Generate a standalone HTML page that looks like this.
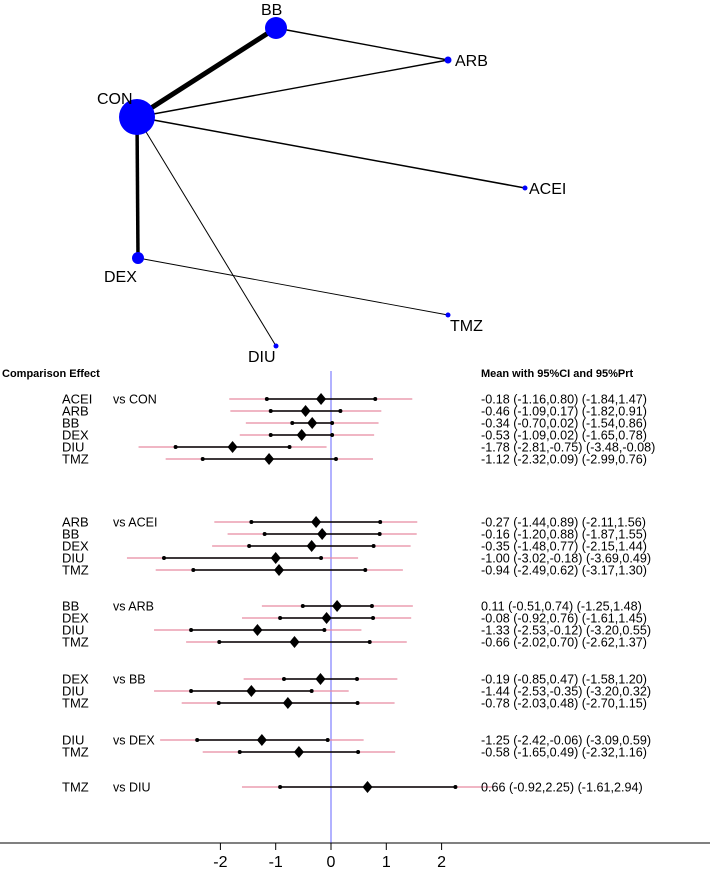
<!DOCTYPE html>
<html><head><meta charset="utf-8"><style>
body{margin:0;background:#fff;}
svg{display:block;font-family:"Liberation Sans",Arial,sans-serif;}
</style></head><body>
<svg id="c" width="710" height="870" viewBox="0 0 710 870"></svg>
<script>
const nodeNames=["CON","BB","ARB","ACEI","DEX","TMZ","DIU"];
const nodeSizes=[18,11,3.5,2.5,6,2.5,2.5];
const edgeList=[["CON","BB",5],["CON","ARB",1.4],["BB","ARB",1.4],["CON","ACEI",1.5],["CON","DEX",3.5],["CON","DIU",1],["DEX","TMZ",0.9]];
const rowNames=[["ACEI","ARB","BB","DEX","DIU","TMZ"],["ARB","BB","DEX","DIU","TMZ"],["BB","DEX","DIU","TMZ"],["DEX","DIU","TMZ"],["DIU","TMZ"],["TMZ"]];
const groupRefs=["vs CON","vs ACEI","vs ARB","vs BB","vs DEX","vs DIU"];
const means=[[-0.18,-0.46,-0.34,-0.53,-1.78,-1.12],[-0.27,-0.16,-0.35,-1.00,-0.94],[0.11,-0.08,-1.33,-0.66],[-0.19,-1.44,-0.78],[-1.25,-0.58],[0.66]];
const ciLo=[[-1.16,-1.09,-0.70,-1.09,-2.81,-2.32],[-1.44,-1.20,-1.48,-3.02,-2.49],[-0.51,-0.92,-2.53,-2.02],[-0.85,-2.53,-2.03],[-2.42,-1.65],[-0.92]];
const ciHi=[[0.80,0.17,0.02,0.02,-0.75,0.09],[0.89,0.88,0.77,-0.18,0.62],[0.74,0.76,-0.12,0.70],[0.47,-0.35,0.48],[-0.06,0.49],[2.25]];
const prLo=[[-1.84,-1.82,-1.54,-1.65,-3.48,-2.99],[-2.11,-1.87,-2.15,-3.69,-3.17],[-1.25,-1.61,-3.20,-2.62],[-1.58,-3.20,-2.70],[-3.09,-2.32],[-1.61]];
const prHi=[[1.47,0.91,0.86,0.78,-0.08,0.76],[1.56,1.55,1.44,0.49,1.30],[1.48,1.45,0.55,1.37],[1.20,0.32,1.15],[0.59,1.16],[2.94]];
const ticks=[-2,-1,0,1,2];

const svg=document.getElementById('c');const NS="http://www.w3.org/2000/svg";
function mk(t,a,p){const e=document.createElementNS(NS,t);for(const k in a)e.setAttribute(k,a[k]);(p||svg).appendChild(e);return e;}
const pos={CON:[137,117],BB:[276,28],ARB:[448,60],ACEI:[525,188],DEX:[138,258],TMZ:[448,315],DIU:[276,346]};
const lab={CON:[97,104],BB:[261,15],ARB:[455,66],ACEI:[529,194],DEX:[104,282],TMZ:[450,331],DIU:[248,362]};
edgeList.forEach(e=>{const a=pos[e[0]],b=pos[e[1]];
 const l=mk('line',{x1:a[0],y1:a[1],x2:b[0],y2:b[1],stroke:'#000','stroke-width':e[2]});
 
 });
nodeNames.forEach((n,i)=>{const p=pos[n];
 const c=mk('circle',{cx:p[0],cy:p[1],r:nodeSizes[i],fill:'#0000ff'});
 
 
 const t=mk('text',{x:lab[n][0],y:lab[n][1],'font-size':16,fill:'#000'});t.textContent=n;
 
 });
const x0=331,unit=55.3;const X=v=>x0+v*unit;
const groupStart=[399,522,606,679,740,787];const rowH=12;
const zl=mk('line',{x1:X(0),y1:371,x2:X(0),y2:843,stroke:'#6666ff','stroke-width':1});


let h=mk('text',{x:2,y:377,'font-size':11,'font-weight':'bold'});h.textContent='Comparison Effect';


h=mk('text',{x:481,y:377,'font-size':11,'font-weight':'bold'});h.textContent='Mean with 95%CI and 95%Prt';


const f=v=>v.toFixed(2);
rowNames.forEach((g,gi)=>{
 const rt=mk('text',{x:113,y:groupStart[gi]+4.5,'font-size':12.5});rt.textContent=groupRefs[gi];
 
 
 g.forEach((n,ri)=>{const y=groupStart[gi]+ri*rowH;
  const nt=mk('text',{x:62,y:y+4.5,'font-size':13});nt.textContent=n;
  
  
  const pl=mk('line',{x1:X(prLo[gi][ri]),y1:y,x2:X(prHi[gi][ri]),y2:y,stroke:'#e88aa0','stroke-width':1.3});
  
  
  const cl=mk('line',{x1:X(ciLo[gi][ri]),y1:y,x2:X(ciHi[gi][ri]),y2:y,stroke:'#000','stroke-width':1.5});
  
  
  [ciLo[gi][ri],ciHi[gi][ri]].forEach(v=>{const d=mk('circle',{cx:X(v),cy:y,r:2,fill:'#000'});
   
   });
  const m=X(means[gi][ri]);
  const dm=mk('polygon',{points:`${m-5},${y} ${m},${y-6} ${m+5},${y} ${m},${y+6}`,fill:'#000'});
  
  
  const vt=mk('text',{x:481,y:y+4.5,'font-size':12.6});
  vt.textContent=`${f(means[gi][ri])} (${f(ciLo[gi][ri])},${f(ciHi[gi][ri])}) (${f(prLo[gi][ri])},${f(prHi[gi][ri])})`;
  
  
 });});
const ax=mk('line',{x1:0,y1:843,x2:710,y2:843,stroke:'#000','stroke-width':1});


ticks.forEach(t=>{const tl=mk('line',{x1:X(t),y1:843,x2:X(t),y2:850,stroke:'#000'});
 
 
 const tt=mk('text',{x:X(t),y:867,'font-size':16,'text-anchor':'middle'});tt.textContent=t;
 
 });
</script>
</body></html>
